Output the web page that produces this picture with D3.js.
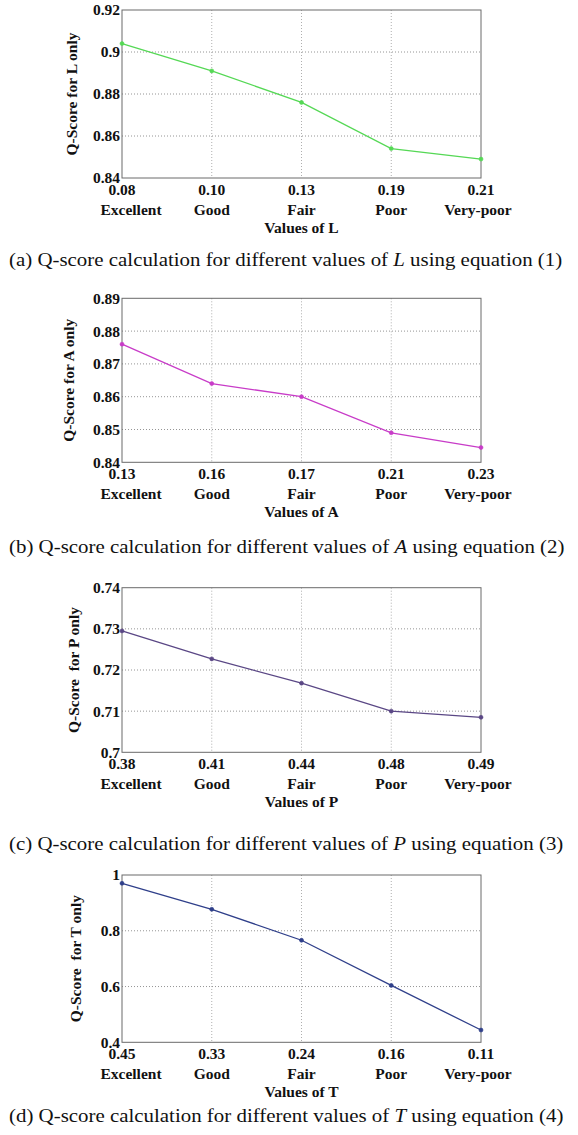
<!DOCTYPE html>
<html>
<head>
<meta charset="utf-8">
<script src="https://cdn.jsdelivr.net/npm/d3@7"></script>
<style>
  html, body { margin: 0; padding: 0; background: #fff; }
  svg { display: block; }
  .tick-label { font-family: "Liberation Serif", "Times New Roman", serif; font-weight: bold; font-size: 15.5px; fill: #111; }
  .axis-title { font-family: "Liberation Serif", "Times New Roman", serif; font-weight: bold; font-size: 15.5px; fill: #111; }
  .caption { font-family: "Liberation Serif", "Times New Roman", serif; font-size: 19px; fill: #111; }
</style>
</head>
<body>
<svg id="fig" width="578" height="1135"></svg>
<script>
// Quality categories shared by all four panels
const categories = ["Excellent", "Good", "Fair", "Poor", "Very-poor"];

// Panel (a): L
const valuesL = ["0.08", "0.10", "0.13", "0.19", "0.21"];
const scoreL = [0.904, 0.891, 0.876, 0.854, 0.849];
const ticksL = [0.84, 0.86, 0.88, 0.90, 0.92];

// Panel (b): A
const valuesA = ["0.13", "0.16", "0.17", "0.21", "0.23"];
const scoreA = [0.876, 0.864, 0.860, 0.849, 0.8445];
const ticksA = [0.84, 0.85, 0.86, 0.87, 0.88, 0.89];

// Panel (c): P
const valuesP = ["0.38", "0.41", "0.44", "0.48", "0.49"];
const scoreP = [0.7295, 0.7227, 0.7168, 0.7100, 0.7085];
const ticksP = [0.70, 0.71, 0.72, 0.73, 0.74];

// Panel (d): T
const valuesT = ["0.45", "0.33", "0.24", "0.16", "0.11"];
const scoreT = [0.970, 0.877, 0.766, 0.604, 0.444];
const ticksT = [0.4, 0.6, 0.8, 1.0];

const panels = [
  { letter: "L", tag: "(a)", eq: "(1)", vals: valuesL, score: scoreL, ticks: ticksL,
    ylabel: "Q-Score for L only", color: "#55d855", top: 10, bottom: 178, titleX: 72, capY: 266 },
  { letter: "A", tag: "(b)", eq: "(2)", vals: valuesA, score: scoreA, ticks: ticksA,
    ylabel: "Q-Score for A only", color: "#c83cc8", top: 298.3, bottom: 462.3, titleX: 69, capY: 553 },
  { letter: "P", tag: "(c)", eq: "(3)", vals: valuesP, score: scoreP, ticks: ticksP,
    ylabel: "Q-Score\u00a0\u00a0for P only", color: "#5a4785", top: 587.7, bottom: 752.3, titleX: 74, capY: 850 },
  { letter: "T", tag: "(d)", eq: "(4)", vals: valuesT, score: scoreT, ticks: ticksT,
    ylabel: "Q-Score\u00a0\u00a0for T only", color: "#2f3f8a", top: 875, bottom: 1042.3, titleX: 76, capY: 1122 }
];

const svg = d3.select("#fig");
const left = 122, right = 481;

const x = d3.scalePoint().domain(d3.range(categories.length)).range([left, right]);
const fmt = v => d3.format("~g")(+v.toFixed(2));

panels.forEach(p => {
  const y = d3.scaleLinear()
    .domain([p.ticks[0], p.ticks[p.ticks.length - 1]])
    .range([p.bottom, p.top]);
  const g = svg.append("g");

  // dotted grid
  g.selectAll(".hgrid").data(p.ticks.slice(1, -1)).join("line")
    .attr("x1", left).attr("x2", right)
    .attr("y1", d => y(d)).attr("y2", d => y(d))
    .attr("stroke", "#7a7a7a").attr("stroke-width", 0.8).attr("stroke-dasharray", "1,2");
  g.selectAll(".vgrid").data(d3.range(1, categories.length - 1)).join("line")
    .attr("x1", d => x(d)).attr("x2", d => x(d))
    .attr("y1", p.top).attr("y2", p.bottom)
    .attr("stroke", "#9a9a9a").attr("stroke-width", 0.8).attr("stroke-dasharray", "1,2");

  // box
  g.append("rect")
    .attr("x", left).attr("y", p.top)
    .attr("width", right - left).attr("height", p.bottom - p.top)
    .attr("fill", "none").attr("stroke", "#6a6a6a").attr("stroke-width", 1);

  // y tick labels
  g.selectAll(".ylab").data(p.ticks).join("text")
    .attr("class", "tick-label")
    .attr("x", left - 2).attr("y", d => y(d)).attr("dy", "0.35em")
    .attr("text-anchor", "end")
    .text(d => fmt(d));

  // x tick labels: value and category
  g.selectAll(".xval").data(p.vals).join("text")
    .attr("class", "tick-label")
    .attr("x", (d, i) => x(i)).attr("y", p.bottom + 17)
    .attr("text-anchor", "middle").text(d => d);
  g.selectAll(".xcat").data(categories).join("text")
    .attr("class", "tick-label")
    .attr("x", (d, i) => x(i) + (i === 0 ? 9 : i === categories.length - 1 ? -3 : 0))
    .attr("y", p.bottom + 37)
    .attr("text-anchor", "middle").text(d => d);

  // axis titles
  g.append("text").attr("class", "axis-title")
    .attr("x", (left + right) / 2).attr("y", p.bottom + 55)
    .attr("text-anchor", "middle").text("Values of " + p.letter);
  g.append("text").attr("class", "axis-title")
    .attr("transform", `translate(${p.titleX},${(p.top + p.bottom) / 2}) rotate(-90)`)
    .attr("dy", "0.35em")
    .attr("text-anchor", "middle").text(p.ylabel);

  // series
  const line = d3.line().x((d, i) => x(i)).y(d => y(d));
  g.append("path").datum(p.score)
    .attr("d", line).attr("fill", "none")
    .attr("stroke", p.color).attr("stroke-width", 1.3);
  g.selectAll(".pt").data(p.score).join("circle")
    .attr("cx", (d, i) => x(i)).attr("cy", d => y(d)).attr("r", 2)
    .attr("fill", p.color).attr("stroke", p.color).attr("stroke-width", 0.6);

  // caption, set slightly wide
  const cap = svg.append("text").attr("class", "caption")
    .attr("transform", `translate(9,${p.capY}) scale(1.1,1)`);
  cap.append("tspan").text(p.tag + " Q-score calculation for different values of ");
  cap.append("tspan").attr("font-style", "italic").text(p.letter);
  cap.append("tspan").text(" using equation " + p.eq);
});
</script>
</body>
</html>
